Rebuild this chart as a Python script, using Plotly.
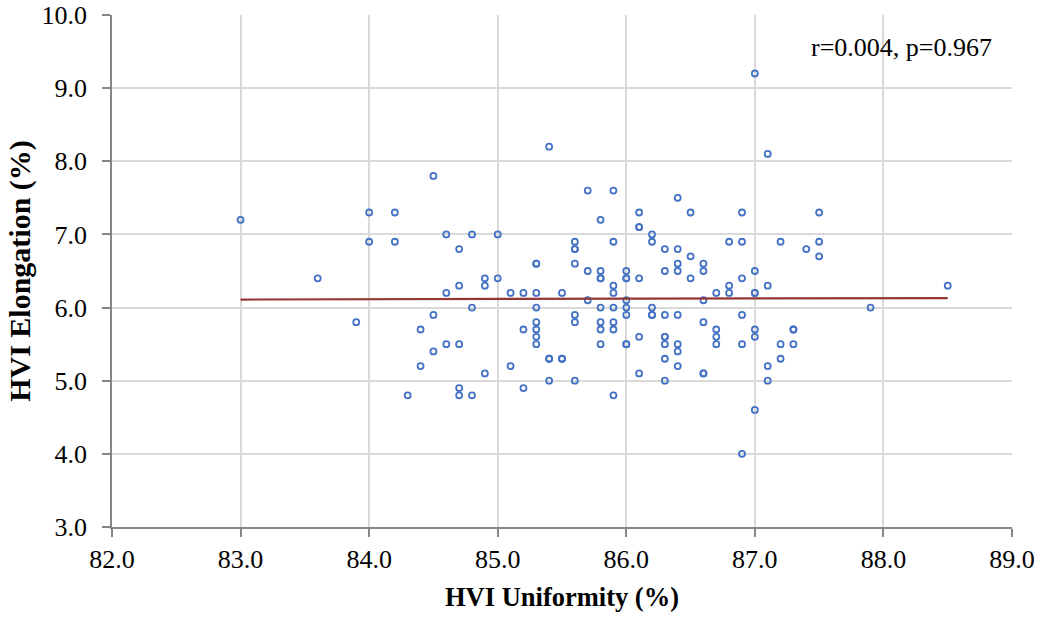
import numpy as np
import plotly.graph_objects as go

# HVI Uniformity (%) values
uniformity = [
    83.0, 83.6, 83.9, 84.0, 84.0, 84.2, 84.2, 84.3, 84.4, 84.4,
    84.5, 84.5, 84.5, 84.6, 84.6, 84.6, 84.7, 84.7, 84.7, 84.7, 84.7,
    84.8, 84.8, 84.8, 84.9, 84.9, 84.9, 85.0, 85.0, 85.1, 85.1,
    85.2, 85.2, 85.2,
    85.3, 85.3, 85.3, 85.3, 85.3, 85.3, 85.3, 85.3,
    85.4, 85.4, 85.4, 85.4, 85.5, 85.5, 85.5,
    85.6, 85.6, 85.6, 85.6, 85.6, 85.6, 85.6,
    85.7, 85.7, 85.7,
    85.8, 85.8, 85.8, 85.8, 85.8, 85.8, 85.8, 85.8,
    85.9, 85.9, 85.9, 85.9, 85.9, 85.9, 85.9, 85.9,
    86.0, 86.0, 86.0, 86.0, 86.0, 86.0, 86.0, 86.0,
    86.1, 86.1, 86.1, 86.1, 86.1, 86.1,
    86.2, 86.2, 86.2, 86.2, 86.2,
    86.3, 86.3, 86.3, 86.3, 86.3, 86.3, 86.3, 86.3,
    86.4, 86.4, 86.4, 86.4, 86.4, 86.4, 86.4, 86.4,
    86.5, 86.5, 86.5,
    86.6, 86.6, 86.6, 86.6, 86.6, 86.6,
    86.7, 86.7, 86.7, 86.7,
    86.8, 86.8, 86.8,
    86.9, 86.9, 86.9, 86.9, 86.9, 86.9,
    87.0, 87.0, 87.0, 87.0, 87.0, 87.0, 87.0,
    87.1, 87.1, 87.1, 87.1,
    87.2, 87.2, 87.2,
    87.3, 87.3, 87.3,
    87.4, 87.5, 87.5, 87.5, 87.9, 88.5,
]

# HVI Elongation (%) values
elongation = [
    7.2, 6.4, 5.8, 7.3, 6.9, 7.3, 6.9, 4.8, 5.7, 5.2,
    7.8, 5.9, 5.4, 7.0, 6.2, 5.5, 6.8, 6.3, 5.5, 4.9, 4.8,
    7.0, 6.0, 4.8, 6.4, 6.3, 5.1, 7.0, 6.4, 6.2, 5.2,
    6.2, 5.7, 4.9,
    6.6, 6.6, 6.2, 6.0, 5.8, 5.7, 5.6, 5.5,
    8.2, 5.3, 5.3, 5.0, 6.2, 5.3, 5.3,
    6.9, 6.8, 6.8, 6.6, 5.9, 5.8, 5.0,
    7.6, 6.5, 6.1,
    7.2, 6.5, 6.4, 6.4, 6.0, 5.8, 5.7, 5.5,
    7.6, 6.9, 6.3, 6.2, 6.0, 5.8, 5.7, 4.8,
    6.5, 6.4, 6.4, 6.1, 6.0, 5.9, 5.5, 5.5,
    7.3, 7.1, 7.1, 6.4, 5.6, 5.1,
    7.0, 6.9, 6.0, 5.9, 5.9,
    6.8, 6.5, 5.9, 5.6, 5.6, 5.5, 5.3, 5.0,
    7.5, 6.8, 6.6, 6.5, 5.9, 5.5, 5.4, 5.2,
    7.3, 6.7, 6.4,
    6.6, 6.5, 6.1, 5.8, 5.1, 5.1,
    6.2, 5.7, 5.6, 5.5,
    6.9, 6.3, 6.2,
    7.3, 6.9, 6.4, 5.9, 5.5, 4.0,
    9.2, 6.5, 6.2, 6.2, 5.7, 5.6, 4.6,
    8.1, 6.3, 5.2, 5.0,
    6.9, 5.5, 5.3,
    5.7, 5.7, 5.5,
    6.8, 7.3, 6.9, 6.7, 6.0, 6.3,
]

# Trend line endpoints
trend_x = [83.0, 88.5]
trend_y = [6.11, 6.13]

annotation_text = "r=0.004, p=0.967"

FONT = "Liberation Serif, Times New Roman, serif"

fig = go.Figure()
fig.add_trace(go.Scatter(
    x=uniformity, y=elongation, mode="markers",
    marker=dict(symbol="circle-open", size=6, color="#4472C4",
                line=dict(width=1.8, color="#4472C4")),
    showlegend=False,
))
fig.add_trace(go.Scatter(
    x=trend_x, y=trend_y, mode="lines",
    line=dict(color="#943634", width=2.2),
    showlegend=False,
))

fig.add_annotation(
    x=1.0, y=1.0, xref="paper", yref="paper",
    xanchor="right", yanchor="top", xshift=-18, yshift=-16,
    text=annotation_text, showarrow=False,
    font=dict(family=FONT, size=26, color="black"),
)

axis_common = dict(
    showgrid=True, gridcolor="#D9D9D9", gridwidth=1.5,
    showline=True, linecolor="#868686", linewidth=1.5,
    ticks="outside", ticklen=8, tickcolor="#868686", tickwidth=1.5,
    tickfont=dict(family=FONT, size=26, color="black"),
    tickformat=".1f", zeroline=False, automargin=False,
)

fig.update_xaxes(
    range=[82, 89], dtick=1, tick0=82,
    title=dict(text="<b>HVI Uniformity (%)</b>", font=dict(family=FONT, size=26.5, color="black"), standoff=14),
    **axis_common,
)
fig.update_yaxes(
    range=[3, 10], dtick=1, tick0=3,
    ticklabelstandoff=10,
    title=dict(text="<b>HVI Elongation (%)</b>", font=dict(family=FONT, size=30, color="black"), standoff=2),
    **axis_common,
)

fig.update_layout(
    width=1042, height=617,
    margin=dict(l=112, r=30, t=15, b=90),
    plot_bgcolor="white", paper_bgcolor="white",
)

fig.write_html("out.html")
